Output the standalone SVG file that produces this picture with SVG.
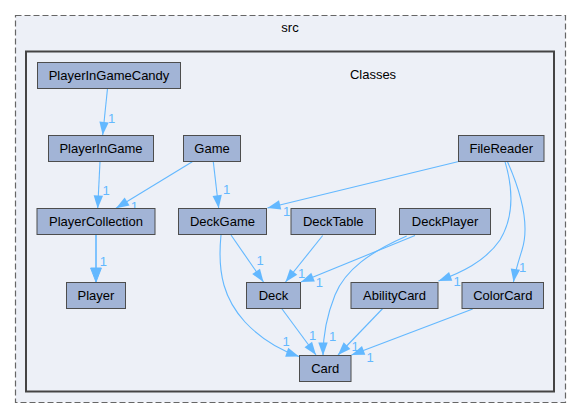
<svg xmlns="http://www.w3.org/2000/svg" width="581" height="419" viewBox="0 0 581 419">
<style>
.cl{fill:#edf0f7}
.outer{stroke:#666;stroke-width:1.2;stroke-dasharray:6,3}
.inner{stroke:#444;stroke-width:2}
.t{font-family:"Liberation Sans",Arial,sans-serif;font-size:13px;fill:#000;text-anchor:middle}
.n rect{fill:#a2b4d6;stroke:#4d4d4d;stroke-width:1}
.e path{fill:none;stroke:#63b8ff;stroke-width:1.1}
.e text{font-family:"Liberation Sans",Arial,sans-serif;font-size:13px;fill:#63b8ff;text-anchor:middle}
</style>
<defs>
<marker id="ah" markerUnits="userSpaceOnUse" markerWidth="14" markerHeight="12" refX="13" refY="6" orient="auto" overflow="visible">
<path d="M0,1.3 L13,6 L0,10.7 z" fill="#63b8ff"/>
</marker>
<marker id="ah2" markerUnits="userSpaceOnUse" markerWidth="16" markerHeight="14" refX="14" refY="7" orient="auto" overflow="visible">
<path d="M0,1.6 L14,7 L0,12.4 z" fill="#63b8ff" stroke="#63b8ff" stroke-width="1"/>
</marker>
</defs>
<rect width="581" height="419" fill="#fff"/>
<g id="cluster_src">
<rect class="cl outer" x="15.5" y="15.5" width="550" height="387"/>
<text class="t" x="290" y="32">src</text>
</g>
<g id="cluster_Classes">
<rect class="cl inner" x="26" y="51.5" width="528" height="340"/>
<text class="t" x="373" y="79">Classes</text>
</g>
<g id="edges" class="e">
<path d="M107.5,88.5 L102.7,135" marker-end="url(#ah)"/><text x="111.7" y="122.5">1</text>
<path d="M100,161.7 L97.7,208.5" marker-end="url(#ah)"/><text x="106" y="195">1</text>
<path d="M192.3,161.7 L116,208.3" marker-end="url(#ah)"/><text x="134.3" y="210.5">1</text>
<path d="M213.3,161.7 L218.7,208.3" marker-end="url(#ah)"/><text x="226.7" y="193.8">1</text>
<path d="M458.7,161.5 L267.5,208" marker-end="url(#ah)"/><text x="286.5" y="216">1</text>
<path d="M231,235 L263.5,282" marker-end="url(#ah)"/><text x="260" y="265">1</text>
<path d="M221,235 C217,275 225,300 245,322 C262,340 280,350 299,356.5" marker-end="url(#ah)"/><text x="286" y="345.5">1</text>
<path d="M322.7,235.5 L285.5,282" marker-end="url(#ah)"/><text x="301.7" y="278">1</text>
<path d="M415,235.5 L301,282" marker-end="url(#ah)"/><text x="319.3" y="287">1</text>
<path d="M406.7,236 C370,252 345,270 335,295 C327,315 323,335 323,355.5" marker-end="url(#ah)"/><text x="332.5" y="340.5">1</text>
<path d="M505,161.7 C512,185 515,215 500,240 C485,262 460,273 438.5,281" marker-end="url(#ah)"/><text x="457" y="286.3">1</text>
<path d="M507.5,161.7 C520,190 530,225 522,250 C518,263 515,272 513.5,282" marker-end="url(#ah)"/><text x="522.7" y="272">1</text>
<path d="M281.7,308.5 L316,355" marker-end="url(#ah)"/><text x="312.7" y="339.5">1</text>
<path d="M382.7,308.5 L338,355" marker-end="url(#ah)"/><text x="355" y="351.3">1</text>
<path d="M472.7,309 L351.5,355" marker-end="url(#ah)"/><text x="370" y="362">1</text>
<path d="M96,234.5 L96,282" style="stroke-width:1.6" marker-end="url(#ah2)"/><text x="103.3" y="266.3">1</text>
</g>
<g id="PlayerInGameCandy" class="n"><rect x="37.5" y="62.5" width="143" height="26"/><text class="t" x="109" y="80">PlayerInGameCandy</text></g>
<g id="PlayerInGame" class="n"><rect x="48.5" y="135.5" width="105" height="26"/><text class="t" x="101" y="153">PlayerInGame</text></g>
<g id="Game" class="n"><rect x="183.5" y="135.5" width="57" height="26"/><text class="t" x="212" y="153">Game</text></g>
<g id="FileReader" class="n"><rect x="458.5" y="135.5" width="85.5" height="26"/><text class="t" x="501.25" y="153">FileReader</text></g>
<g id="PlayerCollection" class="n"><rect x="37" y="208.5" width="118" height="26"/><text class="t" x="96" y="226">PlayerCollection</text></g>
<g id="DeckGame" class="n"><rect x="178.5" y="208.5" width="88" height="26"/><text class="t" x="222.5" y="226">DeckGame</text></g>
<g id="DeckTable" class="n"><rect x="291" y="208.5" width="84.5" height="26"/><text class="t" x="333.25" y="226">DeckTable</text></g>
<g id="DeckPlayer" class="n"><rect x="399.5" y="208.5" width="91" height="26"/><text class="t" x="445" y="226">DeckPlayer</text></g>
<g id="Player" class="n"><rect x="66.5" y="282.5" width="59" height="26"/><text class="t" x="96" y="300">Player</text></g>
<g id="Deck" class="n"><rect x="246.5" y="282.5" width="54" height="26"/><text class="t" x="273.5" y="300">Deck</text></g>
<g id="AbilityCard" class="n"><rect x="351" y="282.5" width="87" height="26"/><text class="t" x="394.5" y="300">AbilityCard</text></g>
<g id="ColorCard" class="n"><rect x="462" y="282.5" width="81.5" height="26"/><text class="t" x="502.75" y="300">ColorCard</text></g>
<g id="Card" class="n"><rect x="299.5" y="355.5" width="51.5" height="26"/><text class="t" x="325.25" y="373">Card</text></g>
</svg>
